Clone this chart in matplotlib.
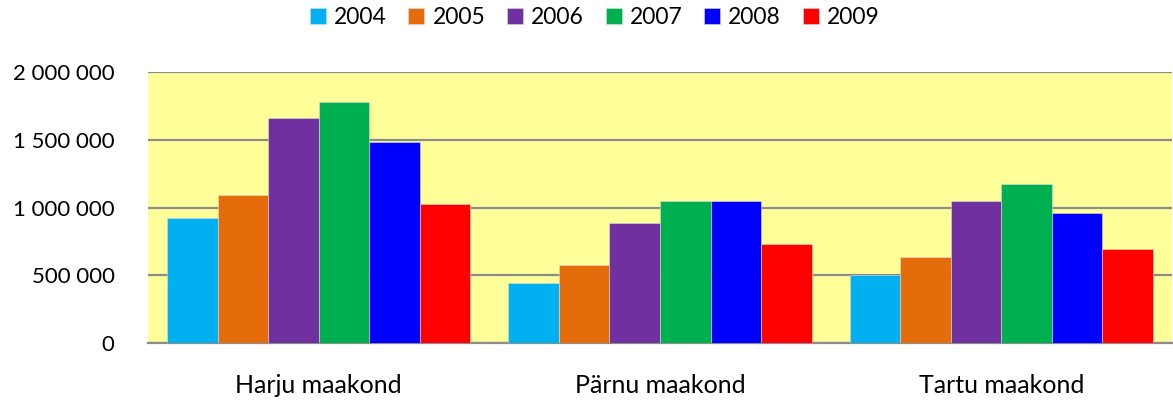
import numpy as np
import matplotlib
matplotlib.use('Agg')
import matplotlib.pyplot as plt
from matplotlib.ticker import FuncFormatter, MultipleLocator

maakonnad = ['Harju maakond', 'Pärnu maakond', 'Tartu maakond']
aastad = ['2004', '2005', '2006', '2007', '2008', '2009']

# values per year, order: Harju, Pärnu, Tartu
v2004 = [920000, 441000, 500000]
v2005 = [1095000, 576000, 638000]
v2006 = [1657000, 882000, 1049000]
v2007 = [1775000, 1049000, 1177000]
v2008 = [1480000, 1049000, 956000]
v2009 = [1029000, 731000, 692000]

cores = ['#00B0F0', '#E46C0A', '#7030A0', '#00B050', '#0000FF', '#FF0000']


def tuhanded(x, pos):
    return '{:,.0f}'.format(x).replace(',', ' ')


def gerar_grafico():
    plt.rcParams['font.family'] = ['Lato', 'DejaVu Sans']
    fig = plt.figure(figsize=(11.73, 4.01), dpi=100)
    ax = fig.add_axes([148 / 1173, 58 / 401, 1024 / 1173, 271 / 401])
    ax.set_facecolor('#FFFF99')

    series = [v2004, v2005, v2006, v2007, v2008, v2009]
    x = np.arange(len(maakonnad))
    w = 0.148
    for i, (ano, vals) in enumerate(zip(aastad, series)):
        ax.bar(x + (i - 2.5) * w, vals, w, color=cores[i], label=ano,
               edgecolor='#dddddd', linewidth=0.4, zorder=3)

    ax.set_xlim(-0.5, 2.5)
    ax.set_ylim(0, 2000000)
    ax.yaxis.set_major_locator(MultipleLocator(500000))
    ax.yaxis.set_major_formatter(FuncFormatter(tuhanded))
    ax.grid(axis='y', color='#8c8c8c', linewidth=1.6, zorder=1)
    ax.set_axisbelow(True)
    ax.set_xticks(x)
    ax.set_xticklabels(maakonnad)
    ax.tick_params(axis='both', length=0)
    ax.tick_params(axis='y', pad=24, labelsize=16)
    ax.tick_params(axis='x', pad=22, labelsize=18)
    for s in ['left', 'right', 'top']:
        ax.spines[s].set_visible(False)
    ax.spines['bottom'].set_color('#8c8c8c')
    ax.spines['bottom'].set_linewidth(1.6)

    fig.legend(loc='upper center', bbox_to_anchor=(0.507, 1.035), ncol=6,
               frameon=False, fontsize=16.5, handlelength=0.7, handleheight=0.7,
               handletextpad=0.35, columnspacing=0.95)

    fig.savefig('out.png', dpi=100)


if __name__ == '__main__':
    gerar_grafico()
